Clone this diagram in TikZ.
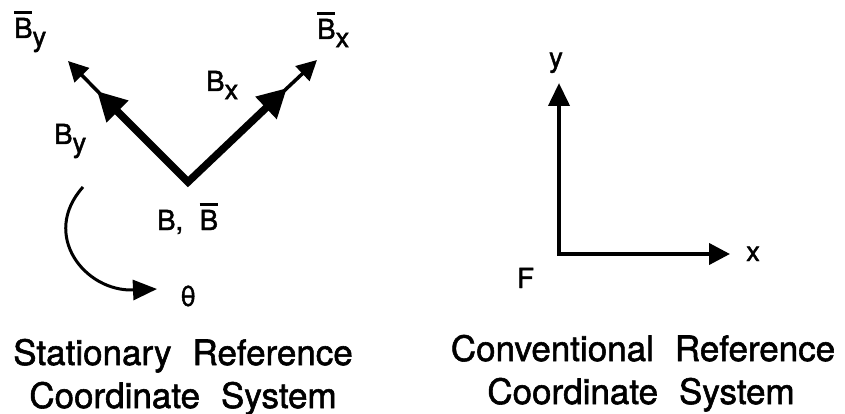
\documentclass[tikz,border=0pt]{standalone}
\usepackage{fontspec}
\setmainfont[FakeBold=1.6]{TeX Gyre Heros}
\usetikzlibrary{arrows.meta,calc}
\newcommand\ovB{\leavevmode\rlap{\raisebox{0.88em}{\rule{0.66em}{0.1em}}}B}
\newcommand\subs[1]{\raisebox{-0.3em}{#1}}
\newcommand\wsp{\hspace{0.6em}}
\begin{document}
\begin{tikzpicture}[x=1pt,y=-1pt,
  lbl/.style={font=\fontsize{27.5}{27.5}\selectfont, inner sep=0pt, anchor=base west},
  captext/.style={font=\fontsize{35}{35}\selectfont, inner sep=0pt, anchor=base},
  vecthick/.style={line width=7.5pt, line join=miter,
    {Triangle[length=29pt,width=29pt]}-{Triangle[length=29pt,width=29pt]}},
  vecthin/.style={line width=3.5pt, -{Triangle[length=20pt,width=20pt]}},
  axisline/.style={line width=4pt, line join=miter,
    {Triangle[length=23pt,width=21pt]}-{Triangle[length=21pt,width=21pt]}},
  rotarrow/.style={line width=3pt, -{Triangle[length=24pt,width=20pt]}}]
\useasboundingbox (0,0) rectangle (845,414);

% stationary system
\coordinate (V) at (188,182);
\coordinate (Lbig) at (97,91);
\coordinate (Lsmall) at (68,61);
\coordinate (Rbig) at (287,88);
\coordinate (Rsmall) at (317,60);
\draw[vecthick] (Lbig) -- (V) -- (Rbig);
\draw[vecthin] ($(V)!0.85!(Lbig)$) -- (Lsmall);
\draw[vecthin] ($(V)!0.85!(Rbig)$) -- (Rsmall);

\node[lbl] (bybar) at (14,38) {\ovB\subs{y}};
\node[lbl] (bxbar) at (317,39) {\ovB\subs{x}};
\node[lbl] (bx) at (206,91) {B\subs{x}};
\node[lbl] (by) at (54,144) {B\subs{y}};
\node[lbl] (bb) at (157,230) {B,\hspace{0.6em}\ovB};
\node[lbl] (th) at (180,306) {θ};

\coordinate (rotstart) at (83,187);
\coordinate (rotend) at (157,289);
\draw[rotarrow] (rotstart) .. controls (40,235) and (85,292) .. (rotend);

% conventional system
\coordinate (O) at (559,254);
\coordinate (Ytip) at (559,83);
\coordinate (Xtip) at (730,254);
\draw[axisline] (Ytip) -- (O) -- (Xtip);
\node[lbl, anchor=base] (ylab) at (556,67) {y};
\node[lbl] (xlab) at (746,261) {x};
\node[lbl] (flab) at (517,288) {F};

% captions
\node[captext] (capl1) at (183,365) {Stationary\wsp Reference};
\node[captext] (capl2) at (183,408) {Coordinate\wsp System};
\node[captext] (capr1) at (643,361) {Conventional\wsp Reference};
\node[captext] (capr2) at (641,404) {Coordinate\wsp System};
\end{tikzpicture}
\end{document}
